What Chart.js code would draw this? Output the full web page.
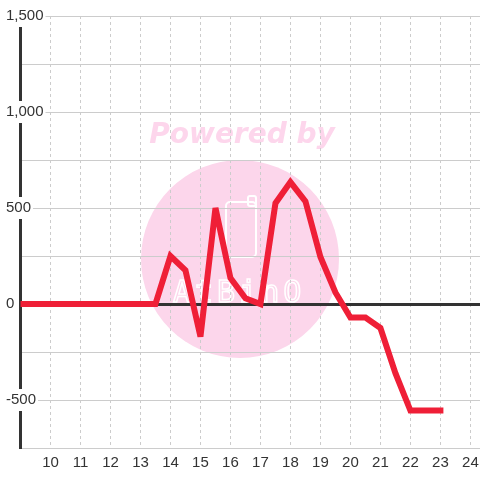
<!DOCTYPE html>
<html>
<head>
<meta charset="utf-8">
<script src="https://cdn.jsdelivr.net/npm/chart.js@4"></script>
<style>
  html, body { margin: 0; padding: 0; background: #fff; }
  #wrap { width: 480px; height: 480px; }
</style>
</head>
<body>
<div id="wrap"><canvas id="chart"></canvas></div>
<script>
// half-hour readings
const hours = [9, 9.5, 10, 10.5, 11, 11.5, 12, 12.5, 13, 13.5, 14, 14.5, 15, 15.5, 16, 16.5,
               17, 17.5, 18, 18.5, 19, 19.5, 20, 20.5, 21, 21.5, 22, 22.5, 23];
const values = [0, 0, 0, 0, 0, 0, 0, 0, 0, 0, 250, 175, -170, 500, 135, 30,
                0, 525, 635, 535, 245, 60, -70, -70, -125, -360, -555, -555, -555];
const xTicks = [9, 10, 11, 12, 13, 14, 15, 16, 17, 18, 19, 20, 21, 22, 23, 24];
const yLabels = [-500, 0, 500, 1000, 1500];

const font = { family: '"Liberation Sans", Arial, sans-serif', size: 15 };

// pink "Powered by" stamp behind the grid
const watermark = {
    id: 'watermark',
    beforeDraw(chart) {
        const ctx = chart.ctx;
        ctx.save();
        ctx.fillStyle = '#fcd6eb';
        ctx.beginPath();
        ctx.arc(240, 259, 99, 0, Math.PI * 2);
        ctx.fill();

        ctx.fillStyle = '#fdd6ec';
        ctx.font = 'italic bold 28px "DejaVu Sans"';
        ctx.textAlign = 'center';
        ctx.fillText('Powered by', 242, 143);

        ctx.strokeStyle = '#fff';
        ctx.lineWidth = 2;
        ctx.beginPath();
        ctx.roundRect(226, 202, 30, 55, 4);
        ctx.stroke();
        ctx.beginPath();
        ctx.roundRect(248, 196, 8, 10, 2);
        ctx.stroke();
        ctx.lineWidth = 1.5;
        ctx.font = '30px "DejaVu Sans Mono"';
        ctx.textAlign = 'left';
        ctx.letterSpacing = '4px';
        ctx.strokeText('AtBinO', 173, 302);
        ctx.restore();
    },
    // svg-like miter limit so the sharp spikes get bevelled
    beforeDatasetsDraw(chart) {
        chart.ctx.miterLimit = 4;
    }
};

new Chart(document.getElementById('chart'), {
    type: 'line',
    data: {
        datasets: [{
            data: hours.map((h, i) => ({ x: h, y: values[i] })),
            borderColor: '#ef1f37',
            borderWidth: 6,
            borderCapStyle: 'square',
            borderJoinStyle: 'miter',
            pointRadius: 0,
            tension: 0,
            fill: false
        }]
    },
    options: {
        responsive: true,
        maintainAspectRatio: false,
        animation: false,
        layout: { padding: { top: 16, left: 6, right: 0, bottom: 0 } },
        plugins: { legend: { display: false }, tooltip: { enabled: false } },
        scales: {
            x: {
                type: 'linear',
                min: 9,
                max: 24.32,
                afterBuildTicks(scale) { scale.ticks = xTicks.map(v => ({ value: v })); },
                afterFit(scale) {
                    scale.height = 32;
                    scale.paddingLeft = 0;
                    scale.paddingRight = 0;
                },
                ticks: {
                    padding: 6,
                    color: '#333',
                    font: font,
                    callback: v => v === 9 ? '' : String(v)
                },
                grid: { color: '#cccccc', lineWidth: 1, drawTicks: false },
                border: { color: '#cccccc', width: 1, dash: [3, 3] }
            },
            y: {
                min: -750,
                max: 1500,
                afterFit(scale) { scale.width = 14.5; },
                ticks: {
                    stepSize: 250,
                    mirror: true,
                    crossAlign: 'near',
                    padding: -14.5,
                    color: '#333',
                    font: font,
                    showLabelBackdrop: true,
                    backdropColor: '#fff',
                    backdropPadding: 2,
                    callback: v => yLabels.includes(v) ? v.toLocaleString('en-US') : ''
                },
                grid: {
                    color: c => c.tick && c.tick.value === 0 ? '#333' : '#cccccc',
                    lineWidth: c => c.tick && c.tick.value === 0 ? 3 : 1,
                    drawTicks: false
                },
                border: { color: '#333', width: 3 }
            }
        }
    },
    plugins: [watermark]
});
</script>
</body>
</html>
